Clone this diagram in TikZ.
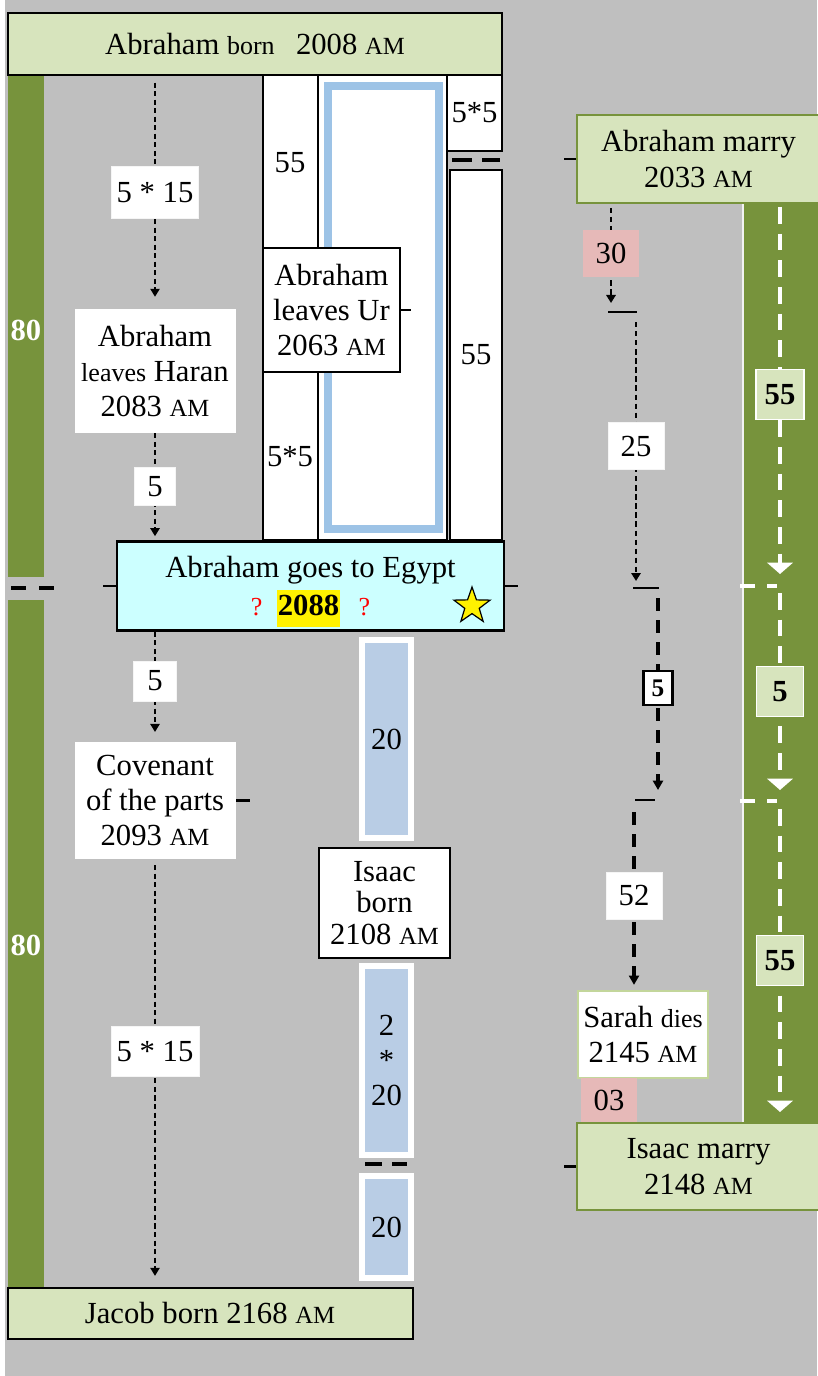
\documentclass[tikz,border=0pt]{standalone}
\usepackage{fontspec}
\setmainfont{Liberation Serif}
\usetikzlibrary{arrows.meta,shapes.geometric}
\usepackage{xcolor}

\definecolor{bgGray}{HTML}{BFBFBF}
\definecolor{barGreen}{HTML}{77933C}
\definecolor{boxGreen}{HTML}{D7E4BD}
\definecolor{sarahLine}{HTML}{C3D69B}
\definecolor{pinkLab}{HTML}{E6B9B8}
\definecolor{ageBlue}{HTML}{B9CDE5}
\definecolor{frameBlue}{HTML}{9DC3E6}
\definecolor{egyptCyan}{HTML}{CCFFFF}

\setlength{\fboxsep}{0.6pt}
\newcommand{\mainsz}{\fontsize{23}{26.5}\selectfont}
\newcommand{\am}{{\fontsize{18.5}{20}\selectfont AM}}
\newcommand{\sm}[1]{{\fontsize{19.5}{22}\selectfont #1}}

\tikzset{
  sz/.style 2 args={minimum width=#1*0.75pt,minimum height=#2*0.75pt},
  ev/.style={draw,fill=white,line width=1.1pt,align=center,inner sep=0pt},
  col/.style={draw,fill=white,line width=1.1pt,inner sep=0pt},
  lab/.style={solid,fill=white,draw=white!92!gray,line width=0.6pt,inner sep=0pt},
  pinkbox/.style={solid,fill=pinkLab,inner sep=0pt},
  ageblk/.style={fill=ageBlue,draw=white,line width=4.5pt,inner sep=0pt,align=center},
  glab/.style={solid,fill=boxGreen,draw=white,text=black,line width=1pt,inner sep=0pt,font=\mainsz\bfseries},
  bar80/.style={text=white,font=\mainsz\bfseries},
  tick/.style={line width=2.2pt},
  dline/.style={line width=1.1pt,dash pattern=on 3.8pt off 2.6pt},
  rthin/.style={line width=1.5pt,dash pattern=on 4pt off 2.8pt},
  rthick/.style={line width=2.4pt,dash pattern=on 9.5pt off 7pt,-{Triangle[length=7pt,width=7.5pt]}},
  wdash/.style={white,line width=3pt,dash pattern=on 12.5pt off 7.5pt,-{Triangle[length=8.5pt,width=19pt]}},
  pairdash/.style={line width=2.4pt}
}

\begin{document}
\begin{tikzpicture}[x=0.75pt,y=-0.75pt,font=\mainsz,>={Triangle[length=6pt,width=7pt]}]
\useasboundingbox (0,0) rectangle (817,1376);
\fill[white] (0,0) rectangle (817,1376);
\fill[bgGray] (5,0) rectangle (817,1376);

% side bars
\fill[barGreen] (8,75) rectangle (44,577);
\fill[barGreen] (8,600) rectangle (44,1287);
\node[bar80] (yrs80a) at (26,330) {80};
\node[bar80] (yrs80b) at (26,945) {80};
\draw[pairdash,dash pattern=on 11.25pt off 9.75pt] (11,588) -- (55,588);
\fill[barGreen] (743,203) rectangle (820,1125);
\draw[white!80!bgGray,line width=0.8pt] (743,203) -- (743,1123);

% top
\node[ev,fill=boxGreen,line width=1.3pt,sz={494}{62}] (born) at (255,44) {Abraham \sm{born}\hspace{16pt}2008 \am};

% middle block
\node[col,sz={55}{465}] (c55) at (290.5,307.5) {};
\node[col,sz={129}{465}] (frame) at (382.5,307.5) {};
\node[draw=frameBlue,line width=6pt,sz={111.5}{443},inner sep=0pt] (inner) at (383.25,307.5) {};
\node[col,sz={55}{76}] (c25) at (474.5,113) {5*5};
\draw[pairdash,dash pattern=on 15pt off 7.5pt] (452,160) -- (500,160);
\node[col,sz={52}{370}] (c55r) at (476,355) {55};
\node (t55) at (290,163) {55};
\node (t25) at (290,457) {5*5};
\node[ev,sz={137}{124}] (ur) at (331.5,310) {Abraham\\leaves Ur\\2063 \am};
\draw[tick] (ur.east) -- ++(10,0);

% Egypt
\node[ev,fill=egyptCyan,line width=2pt,sz={387}{89}] (egypt) at (310.5,586)
  {\rule{0pt}{25pt}Abraham goes to Egypt\\[2pt]{\color{red}\sm{?}}\hspace{11pt}\colorbox{yellow}{\strut\textbf{2088}}\hspace{14pt}{\color{red}\sm{?}}};
\node[star,star points=5,star point ratio=2.5,fill=yellow,draw,line width=0.9pt,minimum size=38*0.75pt,inner sep=0pt] (star) at (472,606) {};
\draw[tick] (egypt.west) -- ++(-13,0);
\draw[tick] (egypt.east) -- ++(13,0);

% left column
\node[ev,draw=none,sz={161}{123}] (haran) at (155,371) {Abraham\\\sm{leaves} Haran\\2083 \am};
\node[ev,draw=none,sz={161}{117}] (cov) at (155,800.5) {Covenant\\of the parts\\2093 \am};
\draw[tick] (cov.east) -- ++(14,0);
\node[ev,fill=boxGreen,line width=1.5pt,sz={405}{51}] (jacob) at (210,1313) {Jacob born 2168 \am};

\draw[dline,->,shorten <=5pt,shorten >=9pt] (born.south -| haran) -- node[lab,sz={87}{52}] (l515a) {5 * 15} (haran);
\draw[dline,->,shorten >=3pt] (haran) -- node[lab,sz={41}{38}] (l5a) {5} (egypt.north -| haran);
\draw[dline,->,shorten >=7pt] (egypt.south -| cov) -- node[lab,sz={43}{40},pos=0.45] (l5b) {5} (cov);
\draw[dline,->,shorten <=4pt,shorten >=8pt] (cov) -- node[lab,sz={88}{50},pos=0.45] (l515b) {5 * 15} (jacob.north -| cov);

% Isaac
\node[ageblk,sz={49}{198}] (b20a) at (386.5,739) {20};
\node[ev,line width=2pt,sz={131}{110},font=\fontsize{23}{23.5}\selectfont] (isaacb) at (384.5,903) {Isaac\\born\\2108 \am};
\node[ageblk,sz={49}{189}] (b20b) at (386.5,1060.5) {2\\*\\20};
\draw[pairdash,dash pattern=on 12.75pt off 7.5pt] (365,1164) -- (407,1164);
\node[ageblk,sz={49}{102}] (b20c) at (386.5,1227) {20};

% right column
\node[ev,fill=boxGreen,draw=barGreen,line width=1.2pt,sz={243}{88}] (amarry) at (698.5,159) {Abraham marry\\2033 \am};
\draw[tick] (amarry.west) -- ++(-12,0);
\node[ev,draw=sarahLine,line width=1.2pt,sz={130}{87}] (sarah) at (643,1034.5) {Sarah \sm{dies}\\2145 \am};
\node[pinkbox,sz={56}{45}] (l03) at (609,1100.5) {03};
\node[ev,fill=boxGreen,draw=barGreen,line width=1.2pt,sz={243}{87}] (imarry) at (698.5,1166.5) {Isaac marry\\2148 \am};
\draw[tick] (imarry.west) -- ++(-12,0);

\coordinate (m1l) at (608,312); \coordinate (m1r) at (637,312);
\coordinate (m2l) at (633,588); \coordinate (m2r) at (659,588);
\coordinate (m3l) at (635,800); \coordinate (m3r) at (655,800);
\draw[tick] (m1l) -- (m1r);
\draw[tick] (m2l) -- (m2r);
\draw[tick] (m3l) -- (m3r);

\coordinate (a1) at (611,303);
\coordinate (b0) at (636,322); \coordinate (b1) at (636,581);
\coordinate (c0) at (658,598); \coordinate (c1) at (658,790);
\coordinate (d0) at (634,812);
\draw[rthin,->,shorten <=3pt] (amarry.south -| a1) -- node[pinkbox,sz={56}{47}] (l30) {30} (a1);
\draw[rthin,->] (b0) -- node[lab,sz={56}{47},pos=0.48] (l25) {25} (b1);
\draw[rthick] (c0) -- node[solid,draw,fill=white,line width=1.8pt,inner sep=0pt,sz={29}{34},font=\fontsize{19}{20}\selectfont\bfseries,pos=0.47] (l5c) {5} (c1);
\draw[rthick,shorten >=4pt] (d0) -- node[lab,sz={56}{47},pos=0.47] (l52) {52} (sarah.north -| d0);

% green bar arrows
\coordinate (g0) at (780,207); \coordinate (g1) at (780,574);
\coordinate (g2) at (780,593); \coordinate (g3) at (780,790);
\coordinate (g4) at (780,809); \coordinate (g5) at (780,1112);
\draw[wdash] (g0) -- node[glab,sz={48}{50},pos=0.51] (gl55a) {55} (g1);
\draw[white,line width=3pt,dash pattern=on 11.25pt off 9pt] (740,586) -- (777,586);
\draw[wdash] (g2) -- node[glab,sz={47}{50}] (gl5) {5} (g3);
\draw[white,line width=3pt,dash pattern=on 11.25pt off 9pt] (740,801) -- (777,801);
\draw[wdash] (g4) -- node[glab,sz={47}{50}] (gl55b) {55} (g5);
\end{tikzpicture}
\end{document}
